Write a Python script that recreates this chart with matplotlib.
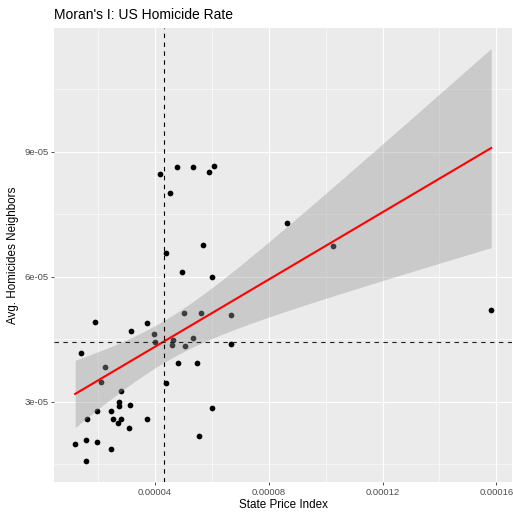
import numpy as np
import matplotlib
matplotlib.use("Agg")
import matplotlib.pyplot as plt
from matplotlib.ticker import FixedLocator

# ───────── data (units of 1e-5) ─────────
price_index = np.array([
    4.200, 4.772, 5.358, 5.895, 6.070, 4.540, 8.646, 5.698, 4.411, 4.961, 6.025,
    1.919, 3.719, 3.172, 3.972, 5.018, 5.639, 6.674, 4.007, 4.646, 5.358, 4.621,
    5.053, 6.667, 1.417, 2.246, 4.832, 5.481, 2.119, 4.400, 2.807, 2.761, 2.744,
    3.137, 6.025, 1.965, 2.481, 1.621, 2.526, 2.825, 2.709, 3.719, 3.112, 5.568,
    1.207, 1.603, 1.979, 2.463, 1.579, 10.246, 15.815]) * 1e-5
homicide_nb = np.array([
    8.460, 8.628, 8.628, 8.522, 8.659, 8.011, 7.284, 6.770, 6.571, 6.122, 5.995,
    4.915, 4.884, 4.699, 4.627, 5.131, 5.131, 5.076, 4.428, 4.483, 4.538, 4.358,
    4.346, 4.387, 4.178, 3.847, 3.938, 3.926, 3.487, 3.451, 3.259, 2.988, 2.906,
    2.935, 2.858, 2.772, 2.779, 2.587, 2.580, 2.587, 2.498, 2.587, 2.364, 2.186,
    1.994, 2.083, 2.030, 1.867, 1.572, 6.746, 5.203]) * 1e-5

x_ticks = [0.00004, 0.00008, 0.00012, 0.00016]
x_labels = ["0.00004", "0.00008", "0.00012", "0.00016"]
y_ticks = [3e-05, 6e-05, 9e-05]
y_labels = ["3e-05", "6e-05", "9e-05"]

# ───────── lm fit + 95% CI (geom_smooth(method="lm")) ─────────
n = len(price_index)
slope, icpt = np.polyfit(price_index, homicide_nb, 1)
resid = homicide_nb - (icpt + slope * price_index)
s = np.sqrt(np.sum(resid**2) / (n - 2))
xbar = price_index.mean()
sxx = np.sum((price_index - xbar)**2)
xs = np.linspace(price_index.min(), price_index.max(), 80)
yfit = icpt + slope * xs
se = s * np.sqrt(1.0 / n + (xs - xbar)**2 / sxx)
t975 = 2.0096  # df = 49

plt.rcParams['font.family'] = ['Liberation Sans', 'DejaVu Sans']

fig = plt.figure(figsize=(5.13, 5.15), dpi=100)
ax = fig.add_axes([0.106, 0.064, 0.892, 0.882])
ax.set_facecolor("#EBEBEB")
for sp in ax.spines.values():
    sp.set_visible(False)

ax.scatter(price_index, homicide_nb, s=17, c="black", linewidths=0, zorder=3)
ax.fill_between(xs, yfit - t975 * se, yfit + t975 * se,
                color="#999999", alpha=0.4, linewidth=0, zorder=4)
ax.plot(xs, yfit, color="red", lw=1.5, zorder=5)
ax.axvline(xbar, color="black", lw=0.8, ls=(0, (4, 4)), zorder=6)
ax.axhline(homicide_nb.mean(), color="#222222", lw=0.8, ls=(0, (4, 4)), zorder=6)

ax.margins(0.05)

ax.xaxis.set_major_locator(FixedLocator(x_ticks))
ax.set_xticklabels(x_labels)
ax.xaxis.set_minor_locator(FixedLocator([0.00002, 0.00006, 0.00010, 0.00014]))
ax.yaxis.set_major_locator(FixedLocator(y_ticks))
ax.set_yticklabels(y_labels)
ax.yaxis.set_minor_locator(FixedLocator([1.5e-05, 4.5e-05, 7.5e-05, 10.5e-05]))

ax.grid(which="major", color="white", lw=0.8, zorder=0)
ax.grid(which="minor", color="white", lw=0.4, zorder=0)
ax.set_axisbelow(True)

ax.tick_params(which="major", length=2, width=0.6, color="#333333",
               labelsize=6.8, labelcolor="#4D4D4D", pad=2)
ax.tick_params(which="minor", length=0)

ax.set_xlabel("State Price Index", fontsize=8.4, labelpad=2)
ax.set_ylabel("Avg. Homicides Neighbors", fontsize=8.4, labelpad=4)
ax.set_title("Moran's I: US Homicide Rate", fontsize=10, loc="left", pad=6)

fig.savefig("out.png", dpi=100)
